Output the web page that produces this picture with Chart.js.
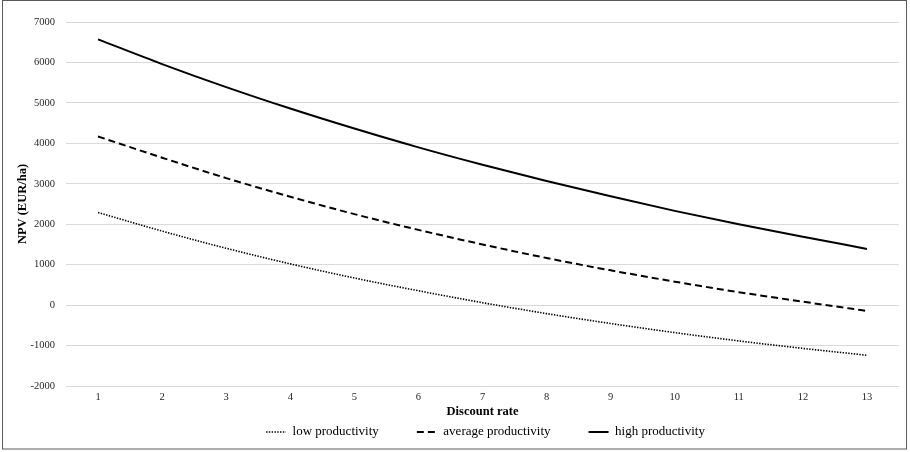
<!DOCTYPE html>
<html>
<head>
<meta charset="utf-8">
<script src="https://cdn.jsdelivr.net/npm/chart.js@4/dist/chart.umd.min.js"></script>
<style>
  html, body { margin: 0; padding: 0; background: #ffffff; }
  #wrap { position: relative; width: 910px; height: 452px; }
</style>
</head>
<body>
<div id="wrap"><canvas id="npv" width="910" height="452"></canvas></div>
<script>
// Discount rates (%)
const discountRates = ['1', '2', '3', '4', '5', '6', '7', '8', '9', '10', '11', '12', '13'];

// Net present value per hectare, EUR/ha
const lowProductivity = [2290, 1830, 1405, 1020, 670, 355, 60, -210, -455, -680, -885, -1070, -1240];
const averageProductivity = [4170, 3645, 3140, 2680, 2250, 1860, 1500, 1165, 860, 580, 320, 85, -145];
const highProductivity = [6570, 5960, 5390, 4860, 4365, 3900, 3470, 3070, 2690, 2330, 2000, 1690, 1390];

const seriesNames = ['low productivity', 'average productivity', 'high productivity'];

const serif = "'Liberation Serif', 'DejaVu Serif', serif";

// thin frame round the whole figure
const framePlugin = {
  id: 'frame',
  afterDraw(chart) {
    const ctx = chart.ctx;
    ctx.save();
    ctx.strokeStyle = '#595959';
    ctx.lineWidth = 1;
    ctx.strokeRect(2.5, 0.5, 904, 448.5);
    ctx.restore();
  }
};

// legend row: wide item spacing, centred under the plot area and pulled up
// so the row sits just below the axis title
const LEGEND_LIFT = 31.5;
const legendPlacePlugin = {
  id: 'legendPlace',
  afterLayout(chart) {
    const lg = chart.legend;
    if (!lg) return;
    const target = (chart.chartArea.left + chart.chartArea.right) / 2 + 3;
    const shift = target - (lg.left + lg.right) / 2;
    lg.left += shift;
    lg.right += shift;
    lg.top -= LEGEND_LIFT;
    lg.bottom -= LEGEND_LIFT;
  }
};

new Chart(document.getElementById('npv'), {
  type: 'line',
  data: {
    labels: discountRates,
    datasets: [
      {
        label: seriesNames[0],
        data: lowProductivity,
        borderColor: '#000000',
        backgroundColor: '#000000',
        borderWidth: 1.6,
        borderDash: [1.4, 1.4],
        pointRadius: 0,
        pointStyle: 'line',
        cubicInterpolationMode: 'monotone'
      },
      {
        label: seriesNames[1],
        data: averageProductivity,
        borderColor: '#000000',
        backgroundColor: '#000000',
        borderWidth: 2,
        borderDash: [7, 4],
        pointRadius: 0,
        pointStyle: 'line',
        cubicInterpolationMode: 'monotone'
      },
      {
        label: seriesNames[2],
        data: highProductivity,
        borderColor: '#000000',
        backgroundColor: '#000000',
        borderWidth: 2,
        pointRadius: 0,
        pointStyle: 'line',
        cubicInterpolationMode: 'monotone'
      }
    ]
  },
  options: {
    responsive: false,
    animation: false,
    layout: { padding: { left: 8, right: 11, top: 22, bottom: -28 } },
    plugins: {
      tooltip: { enabled: false },
      legend: {
        position: 'bottom',
        labels: {
          usePointStyle: true,
          pointStyleWidth: 20,
          boxHeight: 10,
          padding: 38,
          color: '#000000',
          font: { family: serif, size: 13 },
          generateLabels(chart) {
            const items = Chart.defaults.plugins.legend.labels.generateLabels(chart);
            items.forEach(item => {
              const ds = chart.data.datasets[item.datasetIndex];
              item.lineDash = ds.borderDash || [];
              item.lineWidth = ds.borderWidth;
              item.strokeStyle = ds.borderColor;
              item.pointStyle = 'line';
            });
            return items;
          }
        }
      }
    },
    scales: {
      x: {
        type: 'category',
        offset: true,
        afterFit(scale) { scale.height = 33; },
        grid: { display: false, drawTicks: false },
        border: { display: false },
        ticks: { color: '#262626', font: { family: serif, size: 10.5 }, padding: 5 },
        title: {
          display: true,
          text: 'Discount rate',
          color: '#000000',
          font: { family: serif, size: 12.5, weight: 'bold' },
          padding: { top: 0, bottom: 0 }
        }
      },
      y: {
        min: -2000,
        max: 7000,
        afterFit(scale) { scale.width = 58; },
        grid: { color: '#d9d9d9', lineWidth: 1, drawTicks: false },
        border: { display: false },
        ticks: {
          stepSize: 1000,
          color: '#262626',
          font: { family: serif, size: 10.5 },
          padding: 11,
          callback: v => String(v)
        },
        title: {
          display: true,
          text: 'NPV (EUR/ha)',
          color: '#000000',
          font: { family: serif, size: 12.5, weight: 'bold' },
          padding: { top: 7, bottom: 0 }
        }
      }
    }
  },
  plugins: [framePlugin, legendPlacePlugin]
});
</script>
</body>
</html>
